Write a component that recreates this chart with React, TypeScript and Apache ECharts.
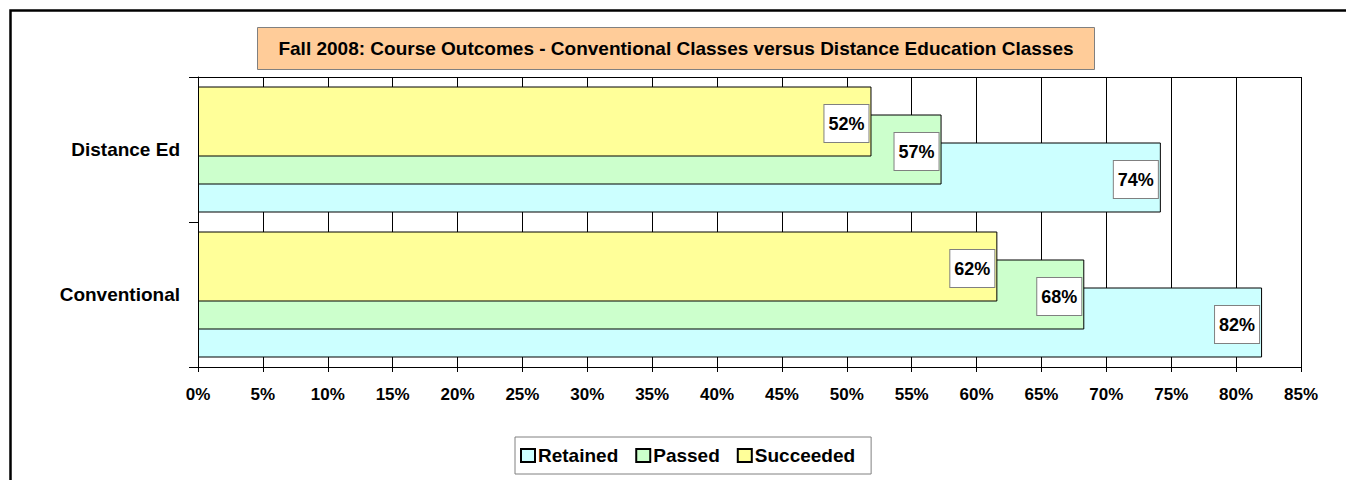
import React, { useEffect, useRef } from 'react';
import * as echarts from 'echarts';

const categories = ['Conventional', 'Distance Ed'];
const retained = [82.0, 74.2];
const passed = [68.3, 57.3];
const succeeded = [61.6, 51.9];
const seriesNames = ['Retained', 'Passed', 'Succeeded'];
const seriesColors = ['#CCFFFF', '#CCFFCC', '#FFFF99'];
const chartTitle = 'Fall 2008: Course Outcomes - Conventional Classes versus Distance Education Classes';
const xMin = 0;
const xMax = 85;
const xStep = 5;

const FONT = '"Liberation Sans", Arial, sans-serif';

export default function App() {
  const ref = useRef<HTMLDivElement>(null);
  useEffect(() => {
    if (!ref.current) return;
    const chart = echarts.init(ref.current, undefined, { renderer: 'svg' });
    const label = {
      show: true,
      position: 'insideRight',
      distance: 3,
      offset: [0, 2],
      formatter: (p: any) => Math.round(p.value) + '%',
      backgroundColor: '#ffffff',
      borderColor: '#808080',
      borderWidth: 1,
      padding: [10, 4, 9, 4],
      fontSize: 18,
      fontWeight: 'bold',
      fontFamily: FONT,
      color: '#000',
    };
    const mk = (idx: number, data: number[], z: number) => ({
      name: seriesNames[idx],
      type: 'bar',
      data,
      barWidth: 70,
      barGap: '-60%',
      z,
      itemStyle: { color: seriesColors[idx], borderColor: '#000', borderWidth: 1 },
      label,
    });
    chart.setOption({
      animation: false,
      textStyle: { fontFamily: FONT },
      graphic: [
        {
          type: 'rect',
          shape: { x: 10.5, y: 10.5, width: 1400, height: 600 },
          style: { fill: 'none', stroke: '#000', lineWidth: 2.5 },
          silent: true,
        },
        {
          type: 'rect',
          shape: { x: 257.5, y: 27.5, width: 837, height: 42 },
          style: { fill: '#FFCC99', stroke: '#808080', lineWidth: 1 },
          silent: true,
        },
        {
          type: 'text',
          x: 676,
          y: 48.5,
          style: {
            text: chartTitle,
            fontSize: 19,
            fontWeight: 'bold',
            fontFamily: FONT,
            fill: '#000',
            align: 'center',
            verticalAlign: 'middle',
          },
          silent: true,
        },
      ],
      legend: {
        data: seriesNames,
        left: 515,
        top: 437,
        orient: 'horizontal',
        itemWidth: 14,
        itemHeight: 13,
        itemGap: 17,
        padding: [9, 16, 9, 5],
        backgroundColor: '#fff',
        borderColor: '#808080',
        borderWidth: 1,
        borderRadius: 0,
        icon: 'rect',
        textStyle: { fontSize: 19, fontWeight: 'bold', fontFamily: FONT, color: '#000', padding: [0, 0, 0, -2] },
      },
      grid: { left: 198, top: 77, right: 45, bottom: 113, containLabel: false },
      xAxis: [
        {
          type: 'value',
          min: xMin,
          max: xMax,
          interval: xStep,
          position: 'bottom',
          axisLine: { show: true, lineStyle: { color: '#000', width: 1 } },
          axisTick: { show: true, length: 5, lineStyle: { color: '#000' } },
          splitLine: { show: true, lineStyle: { color: '#000', width: 1 } },
          axisLabel: {
            formatter: '{value}%',
            fontSize: 17,
            fontWeight: 'bold',
            fontFamily: FONT,
            color: '#000',
            margin: 19,
          },
        },
        {
          type: 'value',
          min: xMin,
          max: xMax,
          interval: xStep,
          position: 'top',
          axisLine: { show: true, lineStyle: { color: '#000', width: 1 } },
          axisTick: { show: false },
          splitLine: { show: false },
          axisLabel: { show: false },
        },
      ],
      yAxis: {
        type: 'category',
        data: categories,
        axisLine: { show: true, lineStyle: { color: '#000', width: 1 } },
        axisTick: { show: true, length: 9, lineStyle: { color: '#000' } },
        splitLine: { show: false },
        axisLabel: {
          fontSize: 19,
          fontWeight: 'bold',
          fontFamily: FONT,
          color: '#000',
          margin: 18,
        },
      },
      series: [
        mk(2, succeeded, 4),
        mk(1, passed, 3),
        mk(0, retained, 2),
      ],
    });
    return () => chart.dispose();
  }, []);
  return (
    <div
      ref={ref}
      style={{ position: 'fixed', left: 0, top: 0, width: 1346, height: 480, background: '#fff' }}
    />
  );
}
